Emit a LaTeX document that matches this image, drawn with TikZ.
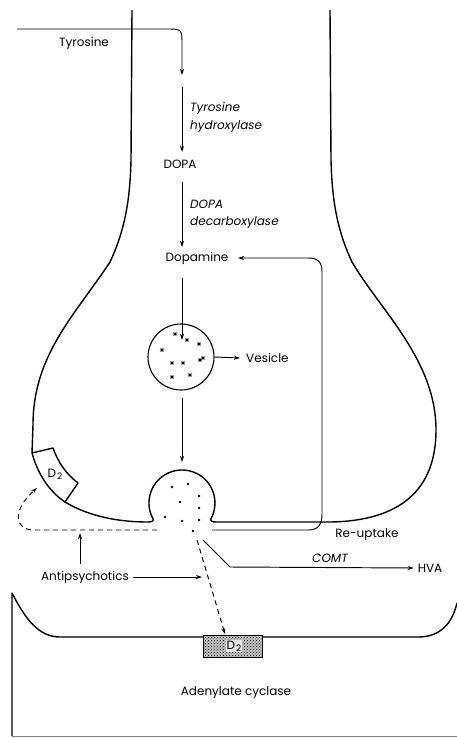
\documentclass[tikz,border=0pt]{standalone}
\usepackage{fontspec}
\setmainfont{Poppins}
\usetikzlibrary{arrows.meta,patterns}
\newcommand{\dtwo}{D\kern1pt\raisebox{-0.35ex}{\fontsize{9}{9}\selectfont 2}}
\begin{document}
\begin{tikzpicture}[x=1pt,y=-1pt,
  membrane/.style={line width=1.4pt, line join=round},
  arr/.style={line width=0.95pt, -{Stealth[length=6pt,width=4pt]}},
  dasharr/.style={arr, dash pattern=on 5pt off 4pt},
  lbl/.style={inner sep=0pt, font=\fontsize{12}{14}\selectfont},
  enz/.style={lbl, anchor=west, font=\fontsize{12}{14}\selectfont\itshape},
  dot/.style={fill=black, circle, inner sep=0pt, minimum size=2.6pt},
]
\useasboundingbox (0,0) rectangle (457,738);

% ---------- presynaptic terminal ----------
\draw[membrane]
  (132,10) -- (131,160) .. controls (130,200) and (125,230) .. (110,262)
  .. controls (75,315) and (33,355) .. (33,425) -- (32,453)
  .. controls (38,475) and (50,492) .. (65,502)
  .. controls (90,517) and (120,522) .. (148,522)
  .. controls (152,522) and (153,521) .. (153.4,519.5)
  arc[start angle=150, end angle=390, radius=33]
  .. controls (211,521) and (212,522) .. (216,522)
  -- (330,522) .. controls (400,521) and (436,490) .. (436,430)
  .. controls (436,360) and (380,310) .. (352,262)
  .. controls (337,230) and (332,200) .. (331,160) -- (330,10);

% presynaptic D2 receptor
\draw[membrane] (32,453) -- (53,448) .. controls (58,462) and (66,474) .. (78,483) -- (65,502);
\node[lbl] (d2pre) at (55,474) {\dtwo};

% ---------- postsynaptic membrane ----------
\draw[membrane] (12,736) -- (12,593) .. controls (25,618) and (38,637) .. (60,637)
  -- (418,637) .. controls (440,637) and (452,624) .. (457,603);
\draw[gray, line width=0.8pt] (12,736) -- (457,736);
\fill[gray!45] (203,635) rectangle (262,657);
\fill[pattern=crosshatch dots, pattern color=black] (203,635) rectangle (262,657);
\draw[line width=1pt] (203,635) rectangle (262,657);
\node[lbl, fill=gray!20, inner sep=0.6pt] (d2post) at (234,646) {\dtwo};
\node[lbl] (ac) at (236,693) {Adenylate cyclase};

% ---------- synthesis pathway ----------
\coordinate (tyrin) at (17,29);
\coordinate (tyrend) at (182,75);
\coordinate (th) at (182,87);
\node[lbl] (tyr) at (84,43) {Tyrosine};
\node[lbl] (dopa) at (180,164) {DOPA};
\node[lbl] (dopamine) at (197,258) {Dopamine};
\node[enz] at (190,108) {Tyrosine};
\node[enz] at (190,127) {hydroxylase};
\node[enz] at (190,204) {DOPA};
\node[enz] at (190,223) {decarboxylase};

\draw[arr] (tyrin) -- (166,29) .. controls (182,29) .. (182,45) -- (tyrend);
\draw[arr] (th) -- (182,152);
\draw[arr] (182,182) -- (182,247);

% storage vesicle
\node[draw, circle, line width=1.1pt, minimum size=66pt, inner sep=0pt] (ves) at (181,357) {};
\foreach \p in {(175,334),(187,340),(199,344),(162,350),(200,360),(172,363),(183,363),(172,377),(190,375),(203,358)}
  \draw[line width=0.6pt] \p ++(-2.2,0) -- ++(4.4,0) \p ++(-1.3,-1.8) -- ++(2.6,3.6) \p ++(-1.3,1.8) -- ++(2.6,-3.6);
\draw[arr] (182,278) -- (182,340);
\draw[arr] (ves.east) -- (240,358);
\node[lbl, anchor=west] (veslbl) at (246,358) {Vesicle};
\draw[arr] (182,398) -- (182,462);

% released transmitter
\foreach \p in {(172,487),(188,484),(199,496),(180,502),(199,508),(165,517),(182,521),(199,520),(193,531)}
  \node[dot] at \p {};

% re-uptake
\coordinate (ru) at (212,530);
\draw[arr] (ru) -- (308,530) .. controls (318,530) and (322,525) .. (322,514)
  -- (322,272) .. controls (322,262) and (318,258) .. (308,258) -- (238,258);
\node[lbl] (rulbl) at (367,535) {Re-uptake};

% metabolism
\coordinate (comtin) at (203,540);
\node[lbl] (hva) at (430,568) {HVA};
\draw[arr] (comtin) -- (230,567) -- ([xshift=-4pt]hva.west);
\node[lbl, font=\fontsize{12}{14}\selectfont\itshape] (comt) at (330,558) {COMT};

% receptor actions
\coordinate (rel) at (197,540);
\draw[dasharr] (rel) -- (225,634);
\coordinate (back) at (157,530);
\draw[dasharr] (back) -- (34,530) .. controls (14,530) and (12,510) .. (37,488);

\node[lbl] (ap) at (85,577) {Antipsychotics};
\draw[arr] (ap.east) ++(4,0) -- (202,577);
\draw[arr] (80,564) -- (80,533);
\end{tikzpicture}
\end{document}
